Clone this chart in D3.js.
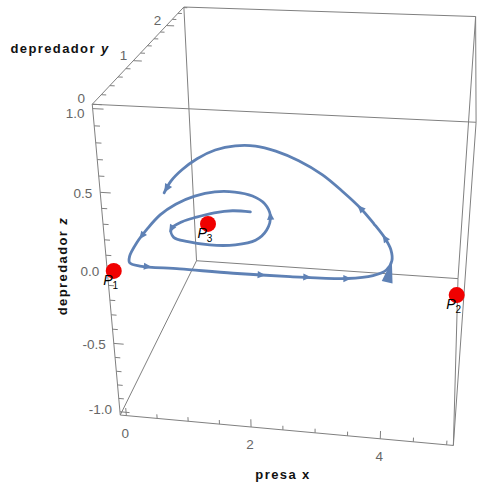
<!DOCTYPE html>
<html>
<head>
<meta charset="utf-8">
<script src="https://cdn.jsdelivr.net/npm/d3@7"></script>
<style>
  html, body { margin: 0; padding: 0; background: #fff; }
  svg { display: block; }
</style>
</head>
<body>
<svg id="chart" width="477" height="488"></svg>
<script>
// ---------- data ----------
// trajectory of the prey / predator system (predator z stays extinct)
const presaX = [1.62, 1.32, 1.04, 0.79, 0.60, 0.49, 0.60, 0.86, 1.22, 1.61,
                1.89, 2.00, 1.97, 1.80, 1.54, 1.21, 0.87, 0.57, 0.33, 0.18,
                0.11, 0.08, 0.10, 0.16, 0.34, 0.95, 1.76, 2.60, 3.43, 3.79,
                3.97, 4.03, 3.99, 3.87, 3.66, 3.39, 3.04, 2.60, 2.09, 1.60,
                1.18, 0.80, 0.47, 0.23, 0.08, 0.01, 0.02];
const depredadorY = [1.14, 1.14, 1.08, 0.98, 0.88, 0.74, 0.60, 0.54, 0.51, 0.54,
                     0.64, 0.83, 1.09, 1.31, 1.45, 1.51, 1.49, 1.38, 1.20, 0.98,
                     0.71, 0.46, 0.24, 0.14, 0.10, 0.10, 0.09, 0.10, 0.13, 0.20,
                     0.30, 0.45, 0.63, 0.82, 1.06, 1.34, 1.64, 1.98, 2.27, 2.47,
                     2.57, 2.55, 2.42, 2.19, 1.92, 1.66, 1.41];
const depredadorZ = [0, 0, 0, 0, 0, 0, 0, 0, 0, 0,
                     0, 0, 0, 0, 0, 0, 0, 0, 0, 0,
                     0, 0, 0, 0, 0, 0, 0, 0, 0, 0,
                     0, 0, 0, 0, 0, 0, 0, 0, 0, 0,
                     0, 0, 0, 0, 0, 0, 0];

// positions (fractional point index) of the direction arrowheads
const arrowAt = [5, 12, 20.5, 24.2, 26.5, 27.3, 28, 33, 35];
const bigArrowAt = 31;

// equilibrium points
const eqNames = ["1", "2", "3"];
const eqX = [0, 5, 1.03];
const eqY = [0, 0, 0.87];
const eqZ = [0, 0, 0];

// axis ranges and ticks
const xDomain = [-0.1, 5.1];
const yDomain = [0, 2.62];
const zDomain = [-1.025, 1.025];

const xTicks = [0, 2, 4];
const xTickLabels = ["0", "2", "4"];
const xMinorTicks = [0.5, 1, 1.5, 2.5, 3, 3.5, 4.5, 5];

const yTicks = [0, 1, 2];
const yTickLabels = ["0", "1", "2"];
const yMinorTicks = [0.2, 0.4, 0.6, 0.8, 1.2, 1.4, 1.6, 1.8, 2.2, 2.4, 2.6];

const zTicks = [-1, -0.5, 0, 0.5, 1];
const zTickLabels = ["-1.0", "-0.5", "0.0", "0.5", "1.0"];
const zMinorTicks = [-0.9, -0.8, -0.7, -0.6, -0.4, -0.3, -0.2, -0.1,
                     0.1, 0.2, 0.3, 0.4, 0.6, 0.7, 0.8, 0.9];

// ---------- camera ----------
// screen anchors of the eight box corners (unit cube -> pixels)
const frameAnchors = [
  [0, 0, 0, 120, 415], [0, 0, 1, 93, 104],
  [1, 0, 0, 453, 446], [1, 0, 1, 476, 122],
  [0, 1, 0, 197, 261], [0, 1, 1, 183, 7],
  [1, 1, 0, 458, 278], [1, 1, 1, 476, 17]
];

// least-squares fit of a 3x4 projective camera to the anchors
function fitCamera(anchors) {
  const rows = [], rhs = [];
  anchors.forEach(([u, v, w, X, Y]) => {
    rows.push([u, v, w, 1, 0, 0, 0, 0, -X * u, -X * v, -X * w]); rhs.push(X);
    rows.push([0, 0, 0, 0, u, v, w, 1, -Y * u, -Y * v, -Y * w]); rhs.push(Y);
  });
  const n = 11;
  const M = Array.from({ length: n }, () => new Array(n + 1).fill(0));
  rows.forEach((r, k) => {
    for (let i = 0; i < n; i++) {
      for (let j = 0; j < n; j++) M[i][j] += r[i] * r[j];
      M[i][n] += r[i] * rhs[k];
    }
  });
  for (let c = 0; c < n; c++) {
    let piv = c;
    for (let r = c + 1; r < n; r++) if (Math.abs(M[r][c]) > Math.abs(M[piv][c])) piv = r;
    [M[c], M[piv]] = [M[piv], M[c]];
    for (let r = 0; r < n; r++) {
      if (r === c) continue;
      const f = M[r][c] / M[c][c];
      for (let k = c; k <= n; k++) M[r][k] -= f * M[c][k];
    }
  }
  return M.map((row, i) => row[n] / row[i]);
}
const cam = fitCamera(frameAnchors);

function projectN(u, v, w) {
  const d = cam[8] * u + cam[9] * v + cam[10] * w + 1;
  return [(cam[0] * u + cam[1] * v + cam[2] * w + cam[3]) / d,
          (cam[4] * u + cam[5] * v + cam[6] * w + cam[7]) / d];
}

const sx = d3.scaleLinear().domain(xDomain).range([0, 1]);
const sy = d3.scaleLinear().domain(yDomain).range([0, 1]);
const sz = d3.scaleLinear().domain(zDomain).range([0, 1]);
const project = (x, y, z) => projectN(sx(x), sy(y), sz(z));

// ---------- drawing ----------
const svg = d3.select("#chart");
const frameColor = "#808080";
const curveColor = "#5E81B5";
const fontTick = "'Liberation Sans', Arial, sans-serif";

// box edges
const corners = [];
[0, 1].forEach(u => [0, 1].forEach(v => [0, 1].forEach(w => corners.push([u, v, w]))));
const edges = [];
corners.forEach((a, i) => corners.forEach((b, j) => {
  if (j > i && Math.abs(a[0] - b[0]) + Math.abs(a[1] - b[1]) + Math.abs(a[2] - b[2]) === 1) edges.push([a, b]);
}));
const gFrame = svg.append("g");
gFrame.selectAll("line.edge").data(edges).join("line")
  .attr("class", "edge")
  .attr("x1", d => projectN(...d[0])[0]).attr("y1", d => projectN(...d[0])[1])
  .attr("x2", d => projectN(...d[1])[0]).attr("y2", d => projectN(...d[1])[1])
  .attr("stroke", frameColor).attr("stroke-width", 1);

function tickLine(g, p0, p1) {
  g.append("line")
    .attr("x1", p0[0]).attr("y1", p0[1]).attr("x2", p1[0]).attr("y2", p1[1])
    .attr("stroke", frameColor).attr("stroke-width", 1);
}

// x axis: front bottom edge, ticks rise along z
const gTicks = svg.append("g");
xTicks.forEach(t => tickLine(gTicks, projectN(sx(t), 0, 0), projectN(sx(t), 0, 0.028)));
xMinorTicks.forEach(t => tickLine(gTicks, projectN(sx(t), 0, 0), projectN(sx(t), 0, 0.015)));
// z axis: front left edge, ticks point along x
zTicks.forEach(t => tickLine(gTicks, projectN(0, 0, sz(t)), projectN(0.03, 0, sz(t))));
zMinorTicks.forEach(t => tickLine(gTicks, projectN(0, 0, sz(t)), projectN(0.016, 0, sz(t))));
// y axis: top left edge, ticks point along x
yTicks.forEach(t => tickLine(gTicks, projectN(0, sy(t), 1), projectN(0.026, sy(t), 1)));
yMinorTicks.forEach(t => tickLine(gTicks, projectN(0, sy(t), 1), projectN(0.014, sy(t), 1)));

const gLabels = svg.append("g")
  .attr("font-family", fontTick).attr("font-size", 13.5).attr("fill", "#666");
xTicks.forEach((t, i) => {
  const p = projectN(sx(t), 0, 0);
  gLabels.append("text").attr("x", p[0] - 1).attr("y", p[1] + 17.5)
    .attr("dy", "0.35em").attr("text-anchor", "middle").text(xTickLabels[i]);
});
zTicks.forEach((t, i) => {
  const p = projectN(0, 0, sz(t));
  // end labels sit slightly inward of their ticks
  const shift = 1 + 8 * Math.max(0, t - 0.5) - 6 * Math.max(0, -t - 0.5);
  gLabels.append("text").attr("x", p[0] - 8).attr("y", p[1] + shift)
    .attr("dy", "0.35em").attr("text-anchor", "end").text(zTickLabels[i]);
});
yTicks.forEach((t, i) => {
  const p = projectN(-0.03, sy(t), 1);
  gLabels.append("text").attr("x", p[0]).attr("y", p[1] - 5)
    .attr("dy", "0.35em").attr("text-anchor", "middle").text(yTickLabels[i]);
});

// trajectory
const pts = presaX.map((x, i) => project(x, depredadorY[i], depredadorZ[i]));
svg.append("path")
  .attr("d", d3.line().curve(d3.curveCatmullRom.alpha(0.5))(pts))
  .attr("fill", "none").attr("stroke", curveColor)
  .attr("stroke-width", 2.8).attr("stroke-linejoin", "round").attr("stroke-linecap", "round");

function pointAt(f) {
  const i = Math.min(Math.floor(f), pts.length - 2), r = f - i;
  return [pts[i][0] + r * (pts[i + 1][0] - pts[i][0]), pts[i][1] + r * (pts[i + 1][1] - pts[i][1])];
}
function dirAt(f) {
  const a = pointAt(Math.max(0, f - 0.5)), b = pointAt(Math.min(pts.length - 1, f + 0.5));
  const dx = b[0] - a[0], dy = b[1] - a[1], L = Math.hypot(dx, dy) || 1;
  return [dx / L, dy / L];
}
function arrowHead(tip, dir, len, half) {
  const bx = tip[0] - dir[0] * len, by = tip[1] - dir[1] * len;
  return `M${tip[0]},${tip[1]}L${bx - dir[1] * half},${by + dir[0] * half}L${bx + dir[1] * half},${by - dir[0] * half}Z`;
}
const gArrows = svg.append("g").attr("fill", curveColor);
arrowAt.forEach(f => {
  const c = pointAt(f), d = dirAt(f);
  const tip = [c[0] + d[0] * 4, c[1] + d[1] * 4];
  gArrows.append("path").attr("d", arrowHead(tip, d, 8, 3.6));
});
// arrowhead at the end of the trajectory
{
  const n = pts.length - 1;
  const d = dirAt(n - 0.5);
  gArrows.append("path").attr("d", arrowHead(pts[n], d, 9, 4));
}
// large arrowhead
{
  const d = dirAt(bigArrowAt);
  gArrows.append("path").attr("d", arrowHead(pointAt(bigArrowAt), d, 22, 5.5));
}

// equilibrium points
const gEq = svg.append("g");
eqX.forEach((x, i) => {
  const p = project(x, eqY[i], eqZ[i]);
  gEq.append("circle").attr("cx", p[0]).attr("cy", p[1]).attr("r", 8).attr("fill", "#f00000");
});
eqX.forEach((x, i) => {
  const p = project(x, eqY[i], eqZ[i]);
  const t = gEq.append("text").attr("x", p[0] - 10.5).attr("y", p[1] + 14)
    .attr("font-family", fontTick).attr("fill", "#000");
  t.append("tspan").attr("font-size", 14).attr("font-style", "italic").text("P");
  t.append("tspan").attr("font-size", 10).attr("dy", 4).text(eqNames[i]);
});

// axis titles
const gTitles = svg.append("g")
  .attr("font-family", fontTick).attr("font-size", 13).attr("font-weight", "bold")
  .attr("letter-spacing", 1.4).attr("fill", "#111");
const ty = gTitles.append("text").attr("x", 60).attr("y", 53).attr("text-anchor", "middle");
ty.append("tspan").text("depredador ");
ty.append("tspan").attr("font-style", "italic").text("y");
const tx = gTitles.append("text").attr("x", 283).attr("y", 479).attr("text-anchor", "middle");
tx.append("tspan").text("presa ");
tx.append("tspan").text("x");
const tz = gTitles.append("text").attr("transform", "translate(67,266) rotate(-90)")
  .attr("text-anchor", "middle");
tz.append("tspan").text("depredador ");
tz.append("tspan").attr("font-style", "italic").text("z");
</script>
</body>
</html>
